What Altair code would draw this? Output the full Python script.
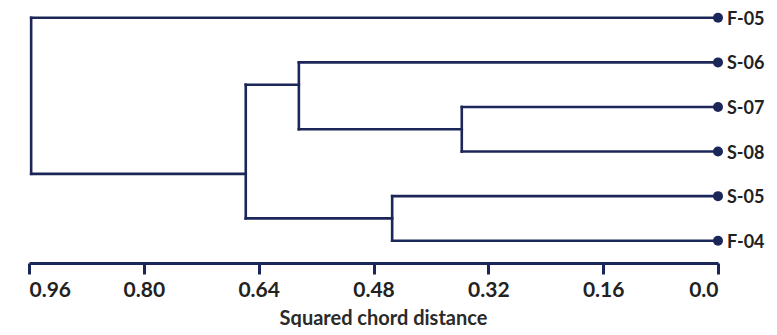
import altair as alt
import pandas as pd

# Leaves (top to bottom) and their row positions
leaves = ["F-05", "S-06", "S-07", "S-08", "S-05", "F-04"]
leaf_pos = [0, 1, 2, 3, 4, 5]

# Merge nodes: name, children, height (squared chord distance), row position
node_names = ["n1", "n2", "n3", "n4", "n5"]
node_left = ["S-07", "S-05", "S-06", "n3", "F-05"]
node_right = ["S-08", "F-04", "n1", "n2", "n4"]
node_height = [0.357, 0.454, 0.584, 0.658, 0.957]
node_pos = [2.5, 4.5, 1.5, 3.5, 1.75]

tick_values = [0.96, 0.80, 0.64, 0.48, 0.32, 0.16, 0.0]

NAVY = "#1c2759"

height_of = {n: 0.0 for n in leaves}
pos_of = dict(zip(leaves, leaf_pos))
for n, h, p in zip(node_names, node_height, node_pos):
    height_of[n] = h
    pos_of[n] = p

segs = []
for n, l, r, h in zip(node_names, node_left, node_right, node_height):
    for c in (l, r):
        segs.append({"x": height_of[c], "x2": h, "y": pos_of[c], "y2": pos_of[c]})
    segs.append({"x": h, "x2": h, "y": pos_of[l], "y2": pos_of[r]})
seg_df = pd.DataFrame(segs)
leaf_df = pd.DataFrame({"name": leaves, "pos": leaf_pos, "d": [0.0] * len(leaves)})

xscale = alt.Scale(domain=[0, 0.96], reverse=True, nice=False, zero=False)
yscale = alt.Scale(domain=[-0.22, 5.5], reverse=True, nice=False, zero=False)

xaxis = alt.Axis(
    values=tick_values,
    labelExpr="datum.value == 0 ? '0.0' : format(datum.value, '.2f')",
    grid=False,
    domainColor=NAVY, domainWidth=3,
    tickColor=NAVY, tickWidth=3, tickSize=11,
    labelFont="Lato", labelFontSize=21, labelFontWeight="bold", labelColor="#222222",
    labelPadding=5,
    title="Squared chord distance",
    titleFont="Lato", titleFontSize=20, titleFontWeight="bold", titleColor="#2a2a2a",
    titleX=354, titleY=61, titleBaseline="alphabetic",
)

lines = alt.Chart(seg_df).mark_rule(color=NAVY, strokeWidth=2.6, strokeCap="square").encode(
    x=alt.X("x:Q", scale=xscale, axis=xaxis),
    x2="x2:Q",
    y=alt.Y("y:Q", scale=yscale, axis=None),
    y2="y2:Q",
)

dots = alt.Chart(leaf_df).mark_point(filled=True, size=100, color=NAVY, opacity=1).encode(
    x=alt.X("d:Q", scale=xscale),
    y=alt.Y("pos:Q", scale=yscale),
)

labels = alt.Chart(leaf_df).mark_text(
    align="left", baseline="middle", dx=9, dy=2, font="Lato", fontSize=18,
    fontWeight="bold", color="#222222",
).encode(
    x=alt.X("d:Q", scale=xscale),
    y=alt.Y("pos:Q", scale=yscale),
    text="name:N",
)

chart = (lines + dots + labels).properties(
    width=689, height=255,
    autosize=alt.AutoSizeParams(type="none"),
    padding={"left": 21, "top": 0, "right": 51, "bottom": 64},
).configure_view(stroke=None)

chart.save("out.html", embed_options={"renderer": "svg", "actions": False})
